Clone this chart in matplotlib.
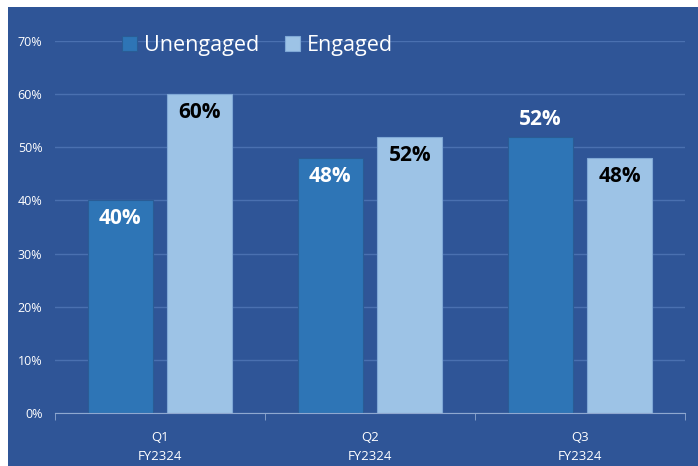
import matplotlib.pyplot as plt
import numpy as np
from matplotlib.patches import Rectangle

categories = ["Q1\nFY2324", "Q2\nFY2324", "Q3\nFY2324"]
unengaged = [40, 48, 52]
engaged = [60, 52, 48]
yticks = [0, 10, 20, 30, 40, 50, 60, 70]

bg = "#2F5597"
c_un = "#2E75B6"
c_en = "#9DC3E6"
font = ["Open Sans", "DejaVu Sans"]

fig = plt.figure(figsize=(6.98, 4.66), dpi=100)
fig.patch.set_facecolor(bg)
# thin white margin at top and left
fig.add_artist(Rectangle((0, 1 - 7 / 466), 1, 7 / 466, transform=fig.transFigure,
                         facecolor="white", edgecolor="none"))
fig.add_artist(Rectangle((0, 0), 8 / 698, 1, transform=fig.transFigure,
                         facecolor="white", edgecolor="none"))

ax = fig.add_axes([55 / 698, 1 - 413 / 466, 630 / 698, 372 / 466])
ax.set_facecolor(bg)

x = np.arange(len(categories))
w = 0.31
off = 0.19
ax.bar(x - off, unengaged, w, color=c_un, edgecolor="#2A5C95", linewidth=0.8, label="Unengaged", zorder=3)
ax.bar(x + off, engaged, w, color=c_en, edgecolor="#7FA8D6", linewidth=0.8, label="Engaged", zorder=3)

for i, v in enumerate(unengaged):
    if i == 2:
        ax.text(x[i] - off, v + 1.2, f"{v}%", ha="center", va="bottom", color="white",
                fontsize=15, fontweight="bold", family=font, zorder=4)
    else:
        ax.text(x[i] - off, v - 1.5, f"{v}%", ha="center", va="top", color="white",
                fontsize=15, fontweight="bold", family=font, zorder=4)
for i, v in enumerate(engaged):
    ax.text(x[i] + off, v - 1.5, f"{v}%", ha="center", va="top", color="black",
            fontsize=15, fontweight="bold", family=font, zorder=4)

ax.set_xlim(-0.5, 2.5)
ax.set_ylim(0, 70)
ax.set_yticks(yticks)
ax.set_yticklabels([f"{t}%" for t in yticks], color="white", fontsize=9, family=font)
ax.set_xticks(x)
ax.set_xticklabels(categories, color="white", fontsize=9.5, family=font, linespacing=1.6)
ax.set_xticks([-0.5, 0.5, 1.5, 2.5], minor=True)
ax.tick_params(axis="x", which="major", length=0, pad=13)
ax.tick_params(axis="x", which="minor", length=5, color="#8FA8D0", direction="out")
ax.tick_params(axis="y", length=0, pad=9)
ax.grid(axis="y", color="#4A70B0", linewidth=1, zorder=0)
for s in ["top", "right", "left"]:
    ax.spines[s].set_visible(False)
ax.spines["bottom"].set_color("#8FA8D0")
ax.spines["bottom"].set_zorder(5)

ax.legend(loc="upper left", bbox_to_anchor=(0.076, 1.069), ncol=2, frameon=False,
          prop={"family": font, "size": 15.5}, handlelength=0.7, handleheight=0.7,
          handletextpad=0.3, columnspacing=1.2, labelcolor="white")

fig.savefig("out.png", dpi=100, facecolor=fig.get_facecolor())
